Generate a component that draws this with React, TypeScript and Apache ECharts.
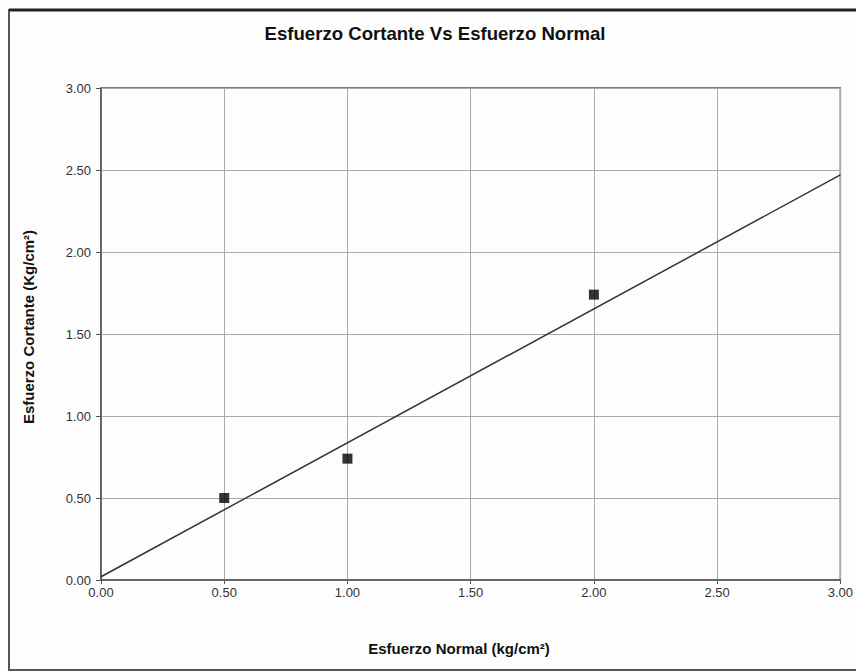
import React, { useEffect, useRef } from "react";
import * as echarts from "echarts";

const titleText = "Esfuerzo Cortante Vs Esfuerzo Normal";
const xName = "Esfuerzo Normal (kg/cm²)";
const yName = "Esfuerzo Cortante (Kg/cm²)";
const normalStress = [0.5, 1.0, 2.0];
const shearStress = [0.5, 0.74, 1.74];
const trendX = [0, 3.0];
const trendY = [0.02, 2.47];

const FONT = "'Liberation Sans', Arial, sans-serif";

export default function App() {
  const ref = useRef<HTMLDivElement>(null);
  useEffect(() => {
    if (!ref.current) return;
    const chart = echarts.init(ref.current, null, { renderer: "svg" });
    chart.setOption({
      animation: false,
      backgroundColor: "#fdfdfd",
      grid: {
        left: 101,
        right: 14,
        top: 88,
        bottom: 91,
        show: true,
        borderColor: "#555",
        borderWidth: 1.5,
        backgroundColor: "transparent",
      },
      xAxis: {
        type: "value",
        min: 0,
        max: 3,
        interval: 0.5,
        axisLine: { show: true, onZero: false, lineStyle: { color: "#555", width: 1.5 } },
        axisTick: { show: true, length: 4, lineStyle: { color: "#555" } },
        axisLabel: {
          formatter: (v: number) => v.toFixed(2),
          color: "#333",
          fontSize: 13,
          fontFamily: FONT,
          margin: 6,
        },
        splitLine: { show: true, lineStyle: { color: "#aaa", width: 1 } },
      },
      yAxis: {
        type: "value",
        min: 0,
        max: 3,
        interval: 0.5,
        axisLine: { show: true, onZero: false, lineStyle: { color: "#555", width: 1.5 } },
        axisTick: { show: true, length: 5, lineStyle: { color: "#555" } },
        axisLabel: {
          formatter: (v: number) => v.toFixed(2),
          color: "#333",
          fontSize: 13,
          fontFamily: FONT,
          margin: 10,
        },
        splitLine: { show: true, lineStyle: { color: "#aaa", width: 1 } },
      },
      series: [
        {
          type: "line",
          data: trendX.map((x, i) => [x, trendY[i]]),
          showSymbol: false,
          symbol: "none",
          lineStyle: { color: "#333", width: 1.5 },
          z: 2,
        },
        {
          type: "scatter",
          data: normalStress.map((x, i) => [x, shearStress[i]]),
          symbol: "rect",
          symbolSize: 10,
          itemStyle: { color: "#000" },
          z: 3,
        },
      ],
      graphic: [
        {
          type: "rect",
          shape: { x: 9, y: 10, width: 870, height: 660 },
          style: { fill: "none", stroke: "#555", lineWidth: 2 },
          silent: true,
        },
        {
          type: "line",
          shape: { x1: 9, y1: 10, x2: 856, y2: 10 },
          style: { stroke: "#222", lineWidth: 3 },
          silent: true,
        },
        {
          type: "text",
          x: 435,
          y: 33,
          style: {
            text: titleText,
            fill: "#111",
            font: `bold 18.6px ${FONT}`,
            textAlign: "center",
            textVerticalAlign: "middle",
          },
        },
        {
          type: "text",
          x: 459,
          y: 648,
          style: {
            text: xName,
            fill: "#111",
            font: `bold 15px ${FONT}`,
            textAlign: "center",
            textVerticalAlign: "middle",
          },
        },
        {
          type: "text",
          x: 28,
          y: 327,
          rotation: Math.PI / 2,
          style: {
            text: yName,
            fill: "#111",
            font: `bold 15px ${FONT}`,
            textAlign: "center",
            textVerticalAlign: "middle",
          },
        },
      ],
    });
    return () => chart.dispose();
  }, []);
  return (
    <div
      ref={ref}
      style={{ position: "fixed", left: 0, top: 0, width: 856, height: 671 }}
    />
  );
}
